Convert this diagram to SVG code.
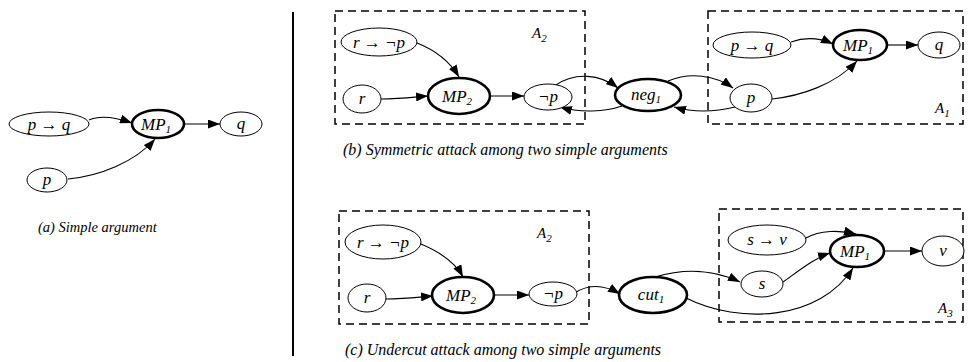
<svg xmlns="http://www.w3.org/2000/svg" width="972" height="362" viewBox="0 0 972 362">
<defs>
<marker id="ah" viewBox="0 0 12 9" refX="12" refY="4.5" markerWidth="12" markerHeight="9" markerUnits="userSpaceOnUse" orient="auto">
<path d="M0,0 L12,4.5 L0,9 z" fill="#000"/>
</marker>
<style>
.n{fill:#fff;stroke:#000;stroke-width:1}
.t{fill:#fff;stroke:#000;stroke-width:2.6}
.lb{font-style:italic;font-size:17px;fill:#000;text-anchor:middle}
.sb{font-size:11px}
.box{fill:none;stroke:#000;stroke-width:1.5;stroke-dasharray:8 5}
.cap{font-style:italic;font-size:16px;fill:#000}
.al{font-style:italic;font-size:15px;fill:#000}
.e{fill:none;stroke:#000;stroke-width:1.1;marker-end:url(#ah)}
</style>
</defs>
<rect width="972" height="362" fill="#fff"/>
<line x1="293" y1="12" x2="293" y2="356" stroke="#000" stroke-width="2"/>
<g font-family="Liberation Serif, serif">
<g id="boxes">
<rect class="box" x="335" y="11" width="250" height="113"/>
<rect class="box" x="708" y="11" width="255" height="113"/>
<rect class="box" x="339" y="211" width="250" height="113"/>
<rect class="box" x="719" y="209" width="244" height="113"/>
<text class="al" x="532" y="38">A<tspan class="sb" dy="4">2</tspan></text>
<text class="al" x="935" y="113">A<tspan class="sb" dy="4">1</tspan></text>
<text class="al" x="537" y="238">A<tspan class="sb" dy="4">2</tspan></text>
<text class="al" x="938" y="313">A<tspan class="sb" dy="4">3</tspan></text>
</g>
<g id="connectors">
<path class="e" d="M89,120 C100,115 115,117 132,123"/>
<path class="e" d="M184,124 L220,124"/>
<path class="e" d="M68,179 C100,176 135,162 155,139"/>
<path class="e" d="M417,43 C435,50 450,62 459,77"/>
<path class="e" d="M381,99 C400,99 415,97 428,96"/>
<path class="e" d="M490,96 L524,96"/>
<path class="e" d="M556,85 C575,72 600,74 618,88"/>
<path class="e" d="M622,106 C605,112 580,113 560,107"/>
<path class="e" d="M668,81 C690,72 715,75 733,88"/>
<path class="e" d="M735,107 C715,112 695,113 674,107"/>
<path class="e" d="M791,42 C805,37 820,38 833,44"/>
<path class="e" d="M887,45 L918,45"/>
<path class="e" d="M772,99 C800,96 835,85 857,61"/>
<path class="e" d="M421,244 C440,252 455,262 463,277"/>
<path class="e" d="M386,299 C405,299 420,297 433,296"/>
<path class="e" d="M494,295 L529,295"/>
<path class="e" d="M576,292 C590,284 605,285 620,294"/>
<path class="e" d="M655,277 C685,268 715,270 740,282"/>
<path class="e" d="M686,298 C740,325 820,320 853,268"/>
<path class="e" d="M783,282 C800,270 815,258 830,253"/>
<path class="e" d="M806,238 C820,230 840,230 856,234"/>
<path class="e" d="M884,251 L922,251"/>
</g>
<g id="a_pq"><ellipse class="n" cx="49" cy="124" rx="40" ry="12"/><text class="lb" x="49" y="130">p → q</text></g>
<g id="a_mp1"><ellipse class="t" cx="158" cy="124" rx="26" ry="14"/><text class="lb" x="156" y="130">MP<tspan class="sb" dy="3">1</tspan></text></g>
<g id="a_q"><ellipse class="n" cx="241" cy="124" rx="21" ry="12"/><text class="lb" x="241" y="129">q</text></g>
<g id="a_p"><ellipse class="n" cx="47" cy="180" rx="20" ry="12"/><text class="lb" x="47" y="185">p</text></g>
<text class="cap" x="38" y="232" style="font-size:14.5px">(a) Simple argument</text>

<g id="b_rnp"><ellipse class="n" cx="379" cy="42" rx="38" ry="14"/><text class="lb" x="379" y="48">r → ¬p</text></g>
<g id="b_r"><ellipse class="n" cx="362" cy="99" rx="19" ry="14"/><text class="lb" x="362" y="104">r</text></g>
<g id="b_mp2"><ellipse class="t" cx="459" cy="96" rx="31" ry="18"/><text class="lb" x="457" y="102">MP<tspan class="sb" dy="3">2</tspan></text></g>
<g id="b_np"><ellipse class="n" cx="548" cy="97" rx="24" ry="13"/><text class="lb" x="548" y="102">¬p</text></g>
<g id="b_neg1"><ellipse class="t" cx="648" cy="95" rx="33" ry="16"/><text class="lb" x="646" y="100">neg<tspan class="sb" dy="3">1</tspan></text></g>
<g id="b_pq"><ellipse class="n" cx="752" cy="45" rx="39" ry="13"/><text class="lb" x="752" y="51">p → q</text></g>
<g id="b_mp1"><ellipse class="t" cx="860" cy="45" rx="27" ry="15"/><text class="lb" x="858" y="51">MP<tspan class="sb" dy="3">1</tspan></text></g>
<g id="b_q"><ellipse class="n" cx="939" cy="45" rx="21" ry="13"/><text class="lb" x="939" y="50">q</text></g>
<g id="b_p"><ellipse class="n" cx="751" cy="98" rx="21" ry="14"/><text class="lb" x="751" y="103">p</text></g>
<text class="cap" x="343" y="155">(b) Symmetric attack among two simple arguments</text>

<g id="c_rnp"><ellipse class="n" cx="383" cy="242" rx="38" ry="17"/><text class="lb" x="383" y="248">r → ¬p</text></g>
<g id="c_r"><ellipse class="n" cx="367" cy="298" rx="19" ry="14"/><text class="lb" x="367" y="303">r</text></g>
<g id="c_mp2"><ellipse class="t" cx="463" cy="295" rx="31" ry="18"/><text class="lb" x="461" y="301">MP<tspan class="sb" dy="3">2</tspan></text></g>
<g id="c_np"><ellipse class="n" cx="553" cy="294" rx="24" ry="12"/><text class="lb" x="553" y="299">¬p</text></g>
<g id="c_cut1"><ellipse class="t" cx="653" cy="295" rx="34" ry="18"/><text class="lb" x="651" y="300">cut<tspan class="sb" dy="3">1</tspan></text></g>
<g id="c_sv"><ellipse class="n" cx="767" cy="240" rx="39" ry="15"/><text class="lb" x="767" y="245">s → v</text></g>
<g id="c_mp1"><ellipse class="t" cx="857" cy="251" rx="27" ry="16"/><text class="lb" x="855" y="257">MP<tspan class="sb" dy="3">1</tspan></text></g>
<g id="c_v"><ellipse class="n" cx="943" cy="251" rx="21" ry="15"/><text class="lb" x="943" y="256">v</text></g>
<g id="c_s"><ellipse class="n" cx="762" cy="284" rx="21" ry="13"/><text class="lb" x="762" y="289">s</text></g>
<text class="cap" x="345" y="355">(c) Undercut attack among two simple arguments</text>
</g>
</svg>
